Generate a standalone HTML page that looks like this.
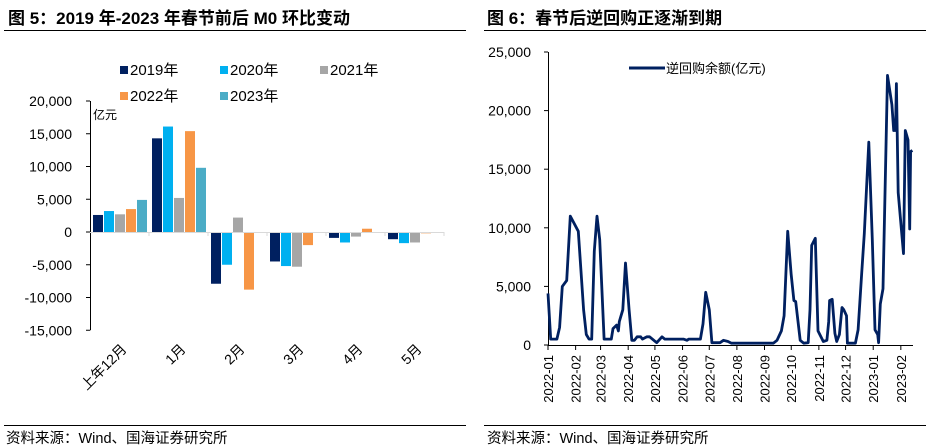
<!DOCTYPE html>
<html><head><meta charset="utf-8"><style>
body{margin:0;background:#fff;width:930px;height:448px;overflow:hidden;font-family:"Liberation Sans","Noto Sans CJK SC",sans-serif}
svg{position:absolute;left:0;top:0}
</style></head><body>
<svg width="930" height="448" font-family="Liberation Sans, Noto Sans CJK SC, sans-serif">
<text x="8" y="24" font-size="17" font-weight="bold">图 5：2019 年-2023 年春节前后 M0 环比变动</text>
<text x="487" y="24" font-size="17" font-weight="bold">图 6：春节后逆回购正逐渐到期</text>
<line x1="4" y1="30.5" x2="466" y2="30.5" stroke="#000"/>
<line x1="484" y1="30.5" x2="926" y2="30.5" stroke="#000"/>
<line x1="4" y1="425.5" x2="466" y2="425.5" stroke="#000"/>
<line x1="484" y1="425.5" x2="926" y2="425.5" stroke="#000"/>
<text x="6" y="443" font-size="14.5">资料来源：Wind、国海证券研究所</text>
<text x="487" y="443" font-size="14.5">资料来源：Wind、国海证券研究所</text>
<g id="left"></g>
<g id="right"></g>
</svg>
<script>
const categories=["上年12月","1月","2月","3月","4月","5月"];
const seriesNames=["2019年","2020年","2021年","2022年","2023年"];
const s2019=[2600,14300,-7900,-4500,-900,-1100];
const s2020=[3200,16100,-5000,-5200,-1600,-1700];
const s2021=[2700,5200,2200,-5300,-700,-1600];
const s2022=[3500,15400,-8800,-2000,500,-200];
const s2023=[4900,9800,0,0,0,0];
const leftTicks=[20000,15000,10000,5000,0,-5000,-10000,-15000];
const repoDays=[0,3,10,13,16,21,25,34,40,43,46,49,52,55,58,63,71,73,77,79,80,84,87,91,94,97,100,104,106,111,114,122,128,131,152,156,158,171,174,177,181,184,193,197,202,206,253,257,262,265,269,273,276,278,283,287,292,294,296,300,303,309,313,315,316,319,322,324,327,330,332,335,336,345,348,352,355,360,364,367,370,371,373,376,381,386,388,390,391,393,399,401,404,406,407,409];
const repoValues=[4400,500,500,1500,5000,5500,11000,9700,3000,900,500,500,8000,11000,9000,500,500,1400,1700,1200,2000,3000,7000,3000,400,400,700,700,500,700,700,200,700,500,500,400,500,500,1800,4500,3000,200,200,400,300,150,150,400,1200,2500,9700,6000,3800,3700,400,150,200,3000,8500,9100,1200,300,400,2000,3800,3900,1000,300,900,3200,3000,2500,150,150,1300,6000,9500,17300,9000,1300,900,200,3500,4800,23000,20500,18300,18300,22300,13000,7800,18300,17500,9900,16500,16600];
const monthLabels=["2022-01","2022-02","2022-03","2022-04","2022-05","2022-06","2022-07","2022-08","2022-09","2022-10","2022-11","2022-12","2023-01","2023-02"];
const monthStartDays=[0,31,59,90,120,151,181,212,243,273,304,334,365,396];
const rightTicks=[0,5000,10000,15000,20000,25000];
const NS="http://www.w3.org/2000/svg";
function mk(p,t,a,txt){const e=document.createElementNS(NS,t);for(const k in a)e.setAttribute(k,a[k]);if(txt!==undefined)e.textContent=txt;p.appendChild(e);return e;}
const L=document.getElementById('left');
const colors=["#002060","#00b0f0","#a6a6a6","#f79646","#4bacc6"];
const all=[s2019,s2020,s2021,s2022,s2023];
const y0=232,pxPer=131/20000;
const ly=v=>y0-v*pxPer;
const lx0=90,catW=59;
leftTicks.forEach(t=>{
 const y=ly(t);
 const g=mk(L,'line',{x1:86,x2:90,y1:y,y2:y,stroke:'#000'});
 
 const tx=mk(L,'text',{x:72,y:y+5,'font-size':14,'text-anchor':'end'},t.toLocaleString('en-US'));
 
});
let ax=mk(L,'line',{x1:90.5,x2:90.5,y1:ly(20000),y2:ly(-15000),stroke:'#000'});

let yt=mk(L,'text',{x:93,y:119,'font-size':12},'亿元');

categories.forEach((c,i)=>{
 all.forEach((s,j)=>{
  const v=s[i];if(v===0)return;
  const x=lx0+i*catW+3+j*11;
  const r=mk(L,'rect',{x:x,y:Math.min(ly(v),y0),width:10,height:Math.abs(ly(v)-y0),fill:colors[j]});
  
 });
 const cx=lx0+i*catW+catW/2;
 const tl=mk(L,'text',{x:cx+8,y:350,'font-size':14,'text-anchor':'end',transform:`rotate(-45 ${cx+8} 350)`},c);
 
 const tk=mk(L,'line',{x1:lx0+(i+1)*catW,x2:lx0+(i+1)*catW,y1:y0,y2:y0+4,stroke:'#d9d9d9'});
 
});
let za=mk(L,'line',{x1:90,x2:444,y1:y0+0.5,y2:y0+0.5,stroke:'#d9d9d9'});

seriesNames.forEach((n,j)=>{
 const x=120+(j%3)*100,y=j<3?71:97;
 const r=mk(L,'rect',{x:x,y:y-5,width:8,height:8,fill:colors[j]});
 
 const t=mk(L,'text',{x:x+10,y:y+4,'font-size':15},n);
 
});
const R=document.getElementById('right');
const rx=d=>548+d*0.891, ry=v=>345-v*(293/25000);
rightTicks.forEach(t=>{
 const y=ry(t);
 const g=mk(R,'line',{x1:544,x2:548,y1:y,y2:y,stroke:'#000'});
 
 const tx=mk(R,'text',{x:531,y:y+5,'font-size':14,'text-anchor':'end'},t.toLocaleString('en-US'));
 
});
let rax=mk(R,'line',{x1:548.5,x2:548.5,y1:ry(25000),y2:345,stroke:'#000'});

let rxa=mk(R,'line',{x1:548,x2:913,y1:345.5,y2:345.5,stroke:'#000'});

monthLabels.forEach((m,i)=>{
 const x=rx(monthStartDays[i]);
 const tk=mk(R,'line',{x1:x,x2:x,y1:345,y2:350,stroke:'#000'});
 
 const t=mk(R,'text',{x:x+5,y:355,'font-size':13,'text-anchor':'end',transform:`rotate(-90 ${x+5} 355)`},m);
 
});
const pts=repoDays.map((d,i)=>rx(d).toFixed(1)+','+ry(repoValues[i]).toFixed(1)).join(' ');
const pl=mk(R,'polyline',{points:pts,fill:'none',stroke:'#002060','stroke-width':2.8,'stroke-linejoin':'round'});

const ll=mk(R,'line',{x1:629,x2:665,y1:68,y2:68,stroke:'#002060','stroke-width':3});

const lt=mk(R,'text',{x:666,y:73,'font-size':13},'逆回购余额(亿元)');

</script>
</body></html>
